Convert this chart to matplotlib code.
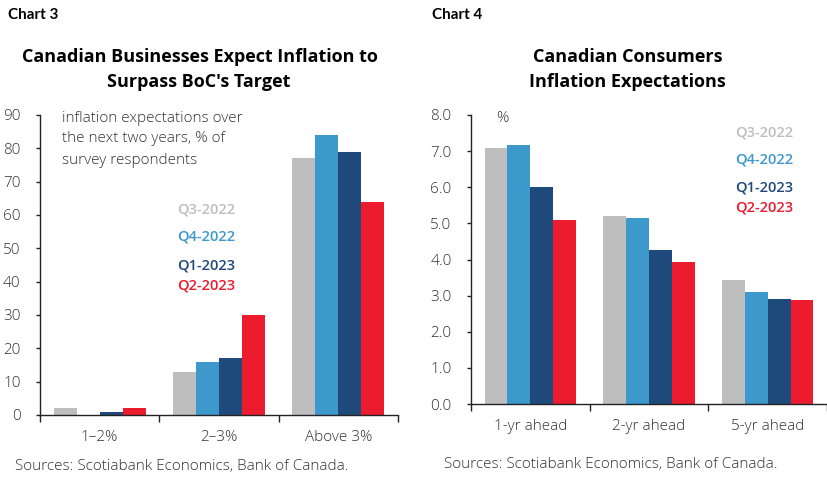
import matplotlib
matplotlib.use("Agg")
import matplotlib.pyplot as plt
import numpy as np

# ---- data ----
series = ["Q3-2022", "Q4-2022", "Q1-2023", "Q2-2023"]
colors = ["#BEBEBE", "#3D98CC", "#1F4A7C", "#EC1B2E"]

biz_categories = ["1\u20132%", "2\u20133%", "Above 3%"]
biz_q3_2022 = [2, 13, 77]
biz_q4_2022 = [0, 16, 84]
biz_q1_2023 = [1, 17, 79]
biz_q2_2023 = [2, 30, 64]

con_categories = ["1-yr ahead", "2-yr ahead", "5-yr ahead"]
con_q3_2022 = [7.10, 5.21, 3.43]
con_q4_2022 = [7.17, 5.14, 3.09]
con_q1_2023 = [6.02, 4.26, 2.91]
con_q2_2023 = [5.08, 3.92, 2.88]

biz_yticks = list(range(0, 91, 10))
con_yticks = [0, 1, 2, 3, 4, 5, 6, 7, 8]

W, H = 828, 483
fig = plt.figure(figsize=(W / 100, H / 100), dpi=100)

HEAD_FONT = ["Lato", "DejaVu Sans"]
TITLE_FONT = ["Open Sans", "DejaVu Sans"]
BODY_FONT = ["Open Sans", "DejaVu Sans"]
BODY_W = "light"
BODY_SIZE = 11
TXT = "#333333"


def fx(px):
    return px / W


def fy(py):
    return 1 - py / H


def draw(ax, cats, vals, ylim, yticks, yfmt):
    n = len(vals)
    w = 0.193
    x = np.arange(len(cats))
    for i, (v, c) in enumerate(zip(vals, colors)):
        ax.bar(x + (i - (n - 1) / 2) * w, v, width=w, color=c, linewidth=0)
    ax.set_xlim(-0.5, len(cats) - 0.5)
    ax.set_ylim(*ylim)
    for s in ["top", "right"]:
        ax.spines[s].set_visible(False)
    for s in ["left", "bottom"]:
        ax.spines[s].set_color("#222222")
        ax.spines[s].set_linewidth(1.0)
    ax.set_xticks(np.arange(len(cats) + 1) - 0.5)
    ax.set_xticklabels([])
    ax.set_xticks(x, minor=True)
    ax.set_xticklabels(cats, minor=True, fontsize=BODY_SIZE, family=BODY_FONT,
                       fontweight=BODY_W, color=TXT)
    ax.tick_params(axis="x", which="major", direction="out", length=5,
                   width=1, color="#222222")
    ax.tick_params(axis="x", which="minor", length=0, pad=11)
    ax.set_yticks(yticks)
    ax.set_yticklabels([yfmt(t) for t in yticks], fontsize=BODY_SIZE,
                       family=BODY_FONT, fontweight=BODY_W, color=TXT)
    ax.tick_params(axis="y", direction="out", length=3, width=1,
                   color="#222222", pad=11)


# Left chart
ax1 = fig.add_axes([fx(40), fy(415), fx(398 - 40), fy(115) - fy(415)])
draw(ax1, biz_categories, [biz_q3_2022, biz_q4_2022, biz_q1_2023, biz_q2_2023],
     (0, 90), biz_yticks, lambda t: f"{t:d}")

# Right chart
ax2 = fig.add_axes([fx(471), fy(404), fx(827 - 471), fy(115) - fy(404)])
draw(ax2, con_categories, [con_q3_2022, con_q4_2022, con_q1_2023, con_q2_2023],
     (0, 8), con_yticks, lambda t: f"{t:.1f}")

# Headers
fig.text(fx(8), fy(15), "Chart 3", fontsize=11, fontweight="bold",
         family=HEAD_FONT, va="center", ha="left", color="black")
fig.text(fx(432), fy(15), "Chart 4", fontsize=11, fontweight="bold",
         family=HEAD_FONT, va="center", ha="left", color="black")

TSIZE = 13
fig.text(fx(200), fy(57), "Canadian Businesses Expect Inflation to",
         fontsize=TSIZE, fontweight="bold", family=TITLE_FONT, ha="center",
         va="center", color="black")
fig.text(fx(199), fy(82), "Surpass BoC's Target",
         fontsize=TSIZE, fontweight="bold", family=TITLE_FONT, ha="center",
         va="center", color="black")
fig.text(fx(627.5), fy(57), "Canadian Consumers",
         fontsize=TSIZE, fontweight="bold", family=TITLE_FONT, ha="center",
         va="center", color="black")
fig.text(fx(627.5), fy(82), "Inflation Expectations",
         fontsize=TSIZE, fontweight="bold", family=TITLE_FONT, ha="center",
         va="center", color="black")

# Annotations
for i, line in enumerate(["inflation expectations over",
                          "the next two years, % of",
                          "survey respondents"]):
    fig.text(fx(62), fy(118 + i * 21), line, fontsize=BODY_SIZE,
             family=BODY_FONT, fontweight=BODY_W, color=TXT, va="center",
             ha="left")
fig.text(fx(496), fy(119), "%", fontsize=BODY_SIZE, family=BODY_FONT,
         fontweight=BODY_W, color=TXT, va="center", ha="left")

# Legends as text
for lbl, c, y in zip(series, colors, [210, 237, 266, 285]):
    fig.text(fx(177), fy(y), lbl, fontsize=10.5, family=BODY_FONT,
             fontweight="semibold", color=c, va="center", ha="left")
for lbl, c, y in zip(series, colors, [132, 160, 187, 207]):
    fig.text(fx(735), fy(y), lbl, fontsize=10.5, family=BODY_FONT,
             fontweight="semibold", color=c, va="center", ha="left")

# Sources
fig.text(fx(15), fy(467), "Sources: Scotiabank Economics, Bank of Canada.",
         fontsize=BODY_SIZE, family=BODY_FONT, fontweight=BODY_W, color=TXT,
         va="center", ha="left")
fig.text(fx(444), fy(464), "Sources: Scotiabank Economics, Bank of Canada.",
         fontsize=BODY_SIZE, family=BODY_FONT, fontweight=BODY_W, color=TXT,
         va="center", ha="left")

fig.savefig("out.png", dpi=100, facecolor="white")
